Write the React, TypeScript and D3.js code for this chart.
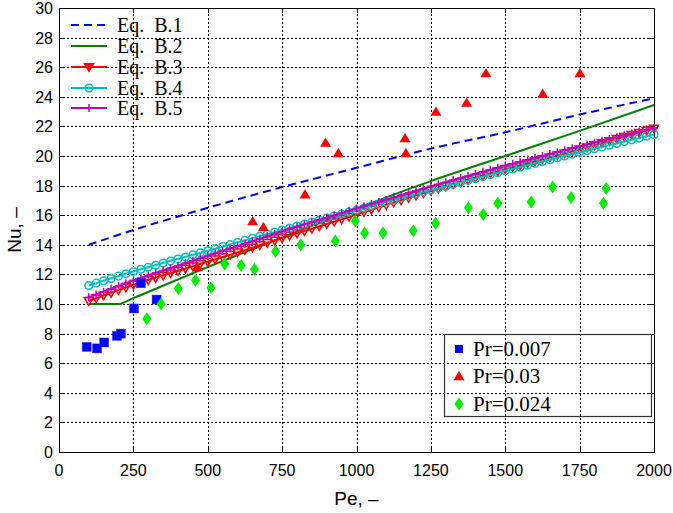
import React from "react";
import * as d3 from "d3";

// correlation curves, read at these Pe values
const PE_KEYS = [100, 250, 500, 750, 1000, 1250, 1500, 1750, 2000];
const EQ_B1 = [14.0, 15.0, 16.5, 17.9, 19.2, 20.5, 21.6, 22.8, 23.9];
const EQ_B3 = [10.2, 11.3, 12.85, 14.45, 16.05, 17.65, 19.1, 20.45, 21.85];
const EQ_B4 = [11.25, 12.2, 13.6, 15.0, 16.35, 17.7, 19.0, 20.25, 21.45];
const EQ_B5 = [10.45, 11.6, 13.25, 14.9, 16.45, 17.95, 19.35, 20.65, 21.9];
// B.2 has a flat part at low Pe
const EQ_B2_PE = [100, 200, 250, 500, 750, 1000, 1250, 1500, 1750, 2000];
const EQ_B2 = [10.0, 10.0, 10.4, 12.5, 14.5, 16.45, 18.3, 20.0, 21.7, 23.45];

// measured points
const PR007_PE = [93, 128, 152, 195, 208, 252, 275, 328];
const PR007_NU = [7.1, 7.0, 7.4, 7.85, 8.0, 9.7, 11.4, 10.3];
const PR03_PE = [465, 651, 687, 827, 896, 939, 1163, 1166, 1267, 1370, 1435, 1626, 1751];
const PR03_NU = [12.5, 15.6, 15.2, 17.4, 20.9, 20.2, 21.2, 20.2, 23.0, 23.6, 25.6, 24.2, 25.6];
const PR024_PE = [295, 343, 401, 459, 511, 557, 612, 657, 728, 813, 929, 996, 1027, 1089, 1191, 1266, 1376, 1426, 1475, 1587, 1659, 1721, 1830, 1839];
const PR024_NU = [9.0, 10.0, 11.05, 11.6, 11.1, 12.7, 12.6, 12.35, 13.55, 14.0, 14.25, 15.6, 14.8, 14.8, 14.95, 15.45, 16.5, 16.05, 16.8, 16.9, 17.9, 17.2, 16.8, 17.8];

const X_TICKS = [0, 250, 500, 750, 1000, 1250, 1500, 1750, 2000];
const Y_TICKS = [0, 2, 4, 6, 8, 10, 12, 14, 16, 18, 20, 22, 24, 26, 28, 30];
const CURVE_NAMES = ["Eq.\u00a0\u00a0B.1", "Eq.\u00a0\u00a0B.2", "Eq.\u00a0\u00a0B.3", "Eq.\u00a0\u00a0B.4", "Eq.\u00a0\u00a0B.5"];
const POINT_NAMES = ["Pr=0.007", "Pr=0.03", "Pr=0.024"];

const W = 673, H = 513;
const m = { left: 59, right: 19, top: 8, bottom: 61 };
const sans = "'Liberation Sans', Arial, sans-serif";
const serif = "'Liberation Serif', 'Times New Roman', serif";

const tri = (cx: number, cy: number, s: number, down: boolean) => {
  const d = down ? 1 : -1;
  return `M${cx - s},${cy - d * s * 0.75}L${cx + s},${cy - d * s * 0.75}L${cx},${cy + d * s * 0.95}Z`;
};
const diamond = (cx: number, cy: number) =>
  `M${cx},${cy - 6.5}L${cx + 4.5},${cy}L${cx},${cy + 6.5}L${cx - 4.5},${cy}Z`;
const px = (v: number) => Math.round(v) + 0.5;

export default function App() {
  const x = d3.scaleLinear().domain([0, 2000]).range([m.left, W - m.right]);
  const y = d3.scaleLinear().domain([0, 30]).range([H - m.bottom, m.top]);
  const x0 = x.range()[0], x1 = x.range()[1];
  const y0 = y.range()[0], y1 = y.range()[1];

  const line = (pe: number[], nu: number[]) =>
    d3.line<number>().x((_, i) => x(pe[i])).y((d) => y(d)).curve(d3.curveMonotoneX)(nu) || "";

  // marker spacing, like the original plot's sampling
  const markerPe = d3.range(100, 2001, 25);
  const along = (vals: number[]) => d3.scaleLinear().domain(PE_KEYS).range(vals);
  const b3 = along(EQ_B3), b4 = along(EQ_B4), b5 = along(EQ_B5);

  const plus = (cx: number, cy: number, s: number) => `M${cx - s},${cy}H${cx + s}M${cx},${cy - s}V${cy + s}`;

  const legRows = [25, 46, 67, 88, 108];
  const lgX0 = 71, lgX1 = 107, lgMid = 89;
  const prRows = [349, 376, 404];

  return (
    <svg width={W} height={H} style={{ position: "absolute", left: 0, top: 0, background: "#fff" }}>
      <rect x={0} y={0} width={W} height={H} fill="#fff" />
      {/* grid */}
      <g stroke="#000" strokeWidth={1} strokeDasharray="2,2" shapeRendering="crispEdges">
        {X_TICKS.slice(1, -1).map((t) => (
          <line key={"gx" + t} x1={px(x(t))} x2={px(x(t))} y1={y0} y2={y1} />
        ))}
        {Y_TICKS.slice(1, -1).map((t) => (
          <line key={"gy" + t} x1={x0} x2={x1} y1={px(y(t))} y2={px(y(t))} />
        ))}
      </g>
      {/* ticks */}
      <g stroke="#000" strokeWidth={1} shapeRendering="crispEdges">
        {X_TICKS.map((t) => (
          <g key={"tx" + t}>
            <line x1={px(x(t))} x2={px(x(t))} y1={y0} y2={y0 - 5} />
            <line x1={px(x(t))} x2={px(x(t))} y1={y1} y2={y1 + 5} />
          </g>
        ))}
        {Y_TICKS.map((t) => (
          <g key={"ty" + t}>
            <line x1={x0} x2={x0 + 5} y1={px(y(t))} y2={px(y(t))} />
            <line x1={x1} x2={x1 - 5} y1={px(y(t))} y2={px(y(t))} />
          </g>
        ))}
      </g>
      <rect x={px(x0)} y={px(y1)} width={Math.round(x1 - x0)} height={Math.round(y0 - y1)} fill="none" stroke="#000" strokeWidth={1} shapeRendering="crispEdges" />
      {/* tick labels */}
      <g fontFamily={sans} fontSize={16} fill="#000">
        {X_TICKS.map((t) => (
          <text key={"lx" + t} x={x(t)} y={y0 + 24} textAnchor="middle">{t}</text>
        ))}
        {Y_TICKS.map((t) => (
          <text key={"ly" + t} x={x0 - 6} y={y(t) + 6} textAnchor="end">{t}</text>
        ))}
      </g>
      <text x={(x0 + x1) / 2} y={505} textAnchor="middle" fontFamily={sans} fontSize={19}>Pe, –</text>
      <text transform={`translate(21,${(y0 + y1) / 2}) rotate(-90)`} textAnchor="middle" fontFamily={sans} fontSize={19}>Nu, –</text>

      {/* curves */}
      <path d={line(PE_KEYS, EQ_B1)} fill="none" stroke="#0000ff" strokeWidth={2} strokeDasharray="8,5" />
      <path d={line(EQ_B2_PE, EQ_B2)} fill="none" stroke="#008000" strokeWidth={2} />
      <path d={line(PE_KEYS, EQ_B3)} fill="none" stroke="#ff0000" strokeWidth={2} />
      {markerPe.map((p) => (
        <path key={"m3" + p} d={tri(x(p), y(b3(p)), 4.5, true)} fill="none" stroke="#ff0000" strokeWidth={1.5} />
      ))}
      <path d={line(PE_KEYS, EQ_B4)} fill="none" stroke="#00bfbf" strokeWidth={2} />
      {markerPe.map((p) => (
        <circle key={"m4" + p} cx={x(p)} cy={y(b4(p))} r={3.8} fill="none" stroke="#00bfbf" strokeWidth={1.5} />
      ))}
      <path d={line(PE_KEYS, EQ_B5)} fill="none" stroke="#bf00bf" strokeWidth={2} />
      {markerPe.map((p) => (
        <path key={"m5" + p} d={plus(x(p), y(b5(p)), 4)} fill="none" stroke="#bf00bf" strokeWidth={1.5} />
      ))}

      {/* measured points */}
      {PR007_PE.map((p, i) => (
        <rect key={"a" + i} x={x(p) - 4.5} y={y(PR007_NU[i]) - 4.5} width={9} height={9} fill="#0000ff" stroke="#3333ff" strokeWidth={0.5} />
      ))}
      {PR03_PE.map((p, i) => (
        <path key={"b" + i} d={tri(x(p), y(PR03_NU[i]), 5.5, false)} fill="#ff0000" />
      ))}
      {PR024_PE.map((p, i) => (
        <path key={"c" + i} d={diamond(x(p), y(PR024_NU[i]))} fill="#00ee00" />
      ))}

      {/* legend: curves */}
      <g fontFamily={serif} fontSize={20} fill="#000">
        {CURVE_NAMES.map((n, i) => (
          <text key={n} x={117} y={legRows[i] + 6.5}>{n}</text>
        ))}
      </g>
      <line x1={lgX0} x2={lgX1} y1={legRows[0]} y2={legRows[0]} stroke="#0000ff" strokeWidth={2} strokeDasharray="8,5" />
      <line x1={lgX0} x2={lgX1} y1={legRows[1]} y2={legRows[1]} stroke="#008000" strokeWidth={2} />
      <line x1={lgX0} x2={lgX1} y1={legRows[2]} y2={legRows[2]} stroke="#ff0000" strokeWidth={2} />
      <path d={tri(lgMid, legRows[2], 4.5, true)} fill="#ff0000" stroke="#ff0000" strokeWidth={1.5} />
      <line x1={lgX0} x2={lgX1} y1={legRows[3]} y2={legRows[3]} stroke="#00bfbf" strokeWidth={2} />
      <circle cx={lgMid} cy={legRows[3]} r={3.8} fill="none" stroke="#00bfbf" strokeWidth={1.5} />
      <line x1={lgX0} x2={lgX1} y1={legRows[4]} y2={legRows[4]} stroke="#bf00bf" strokeWidth={2} />
      <path d={plus(lgMid, legRows[4], 4)} stroke="#bf00bf" strokeWidth={1.5} />

      {/* legend: points */}
      <rect x={444.5} y={334.5} width={207} height={82} fill="none" stroke="#333" strokeWidth={1.2} />
      <rect x={455} y={345} width={8} height={8} fill="#0000ff" />
      <path d={tri(459, prRows[1], 5.5, false)} fill="#ff0000" />
      <path d={diamond(459, prRows[2])} fill="#00ee00" />
      <g fontFamily={serif} fontSize={21} fill="#000">
        {POINT_NAMES.map((n, i) => (
          <text key={n} x={473} y={prRows[i] + 6.5}>{n}</text>
        ))}
      </g>
    </svg>
  );
}
